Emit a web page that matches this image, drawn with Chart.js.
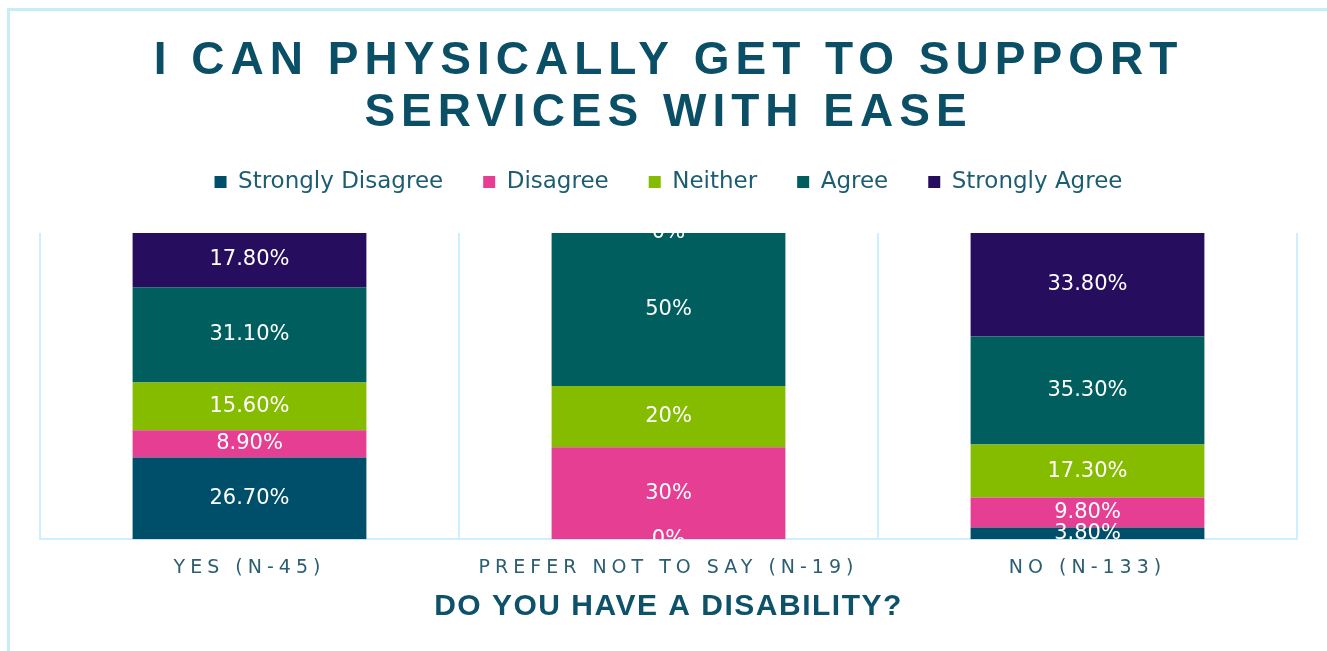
<!DOCTYPE html>
<html>
<head>
<meta charset="utf-8">
<title>I can physically get to support services with ease</title>
<script src="https://cdn.jsdelivr.net/npm/chart.js@4"></script>
<style>
  html, body { margin: 0; padding: 0; background: #fff; }
  #wrap { position: relative; width: 1327px; height: 651px; overflow: hidden; }
  #frame {
    position: absolute; left: 7px; top: 8px; width: 1400px; height: 700px;
    border-left: 3px solid #c6eef9; border-top: 3px solid #c6eef9;
  }
  #chart { position: absolute; left: 0; top: 0; }
</style>
</head>
<body>
<div id="wrap">
  <div id="frame"></div>
  <canvas id="chart" width="1327" height="651"></canvas>
</div>
<script>
var groups = ['YES (N-45)', 'PREFER NOT TO SAY (N-19)', 'NO (N-133)'];
var answers = ['Strongly Disagree', 'Disagree', 'Neither', 'Agree', 'Strongly Agree'];
var colours = ['#004f6a', '#e63e93', '#86bc00', '#005e5e', '#260d5e'];

// percent per answer, one value per group
var stronglyDisagree = [26.7, 0, 3.8];
var disagree = [8.9, 30, 9.8];
var neither = [15.6, 20, 17.3];
var agree = [31.1, 50, 35.3];
var stronglyAgree = [17.8, 0, 33.8];

var series = [stronglyDisagree, disagree, neither, agree, stronglyAgree];

function pct(v) {
    return Number.isInteger(v) ? v + '%' : v.toFixed(2) + '%';
}

// sets canvas letter spacing around one draw method of a box
function spaceOut(obj, method, px) {
    if (!obj || obj['_sp_' + method]) return;
    var orig = obj[method];
    obj[method] = function () {
        var ctx = this.ctx;
        ctx.save();
        ctx.letterSpacing = px + 'px';
        orig.apply(this, arguments);
        ctx.restore();
    };
    obj['_sp_' + method] = true;
}

var spacing = {
    id: 'spacing',
    beforeInit: function (chart) {
        // extra room between legend and bars
        var fit = chart.legend.fit;
        chart.legend.fit = function () {
            fit.bind(chart.legend)();
            this.height += 29.5;
        };
    },
    beforeDraw: function (chart) {
        spaceOut(chart.titleBlock, 'draw', 6);
        spaceOut(chart.scales.x, 'drawLabels', 5);
        spaceOut(chart.scales.x, 'drawTitle', 1.5);
    }
};

var valueLabels = {
    id: 'valueLabels',
    afterDatasetsDraw: function (chart) {
        var ctx = chart.ctx, a = chart.chartArea;
        ctx.save();
        ctx.beginPath();
        ctx.rect(a.left, a.top, a.right - a.left, a.bottom - a.top);
        ctx.clip();
        ctx.font = '21px "DejaVu Sans"';
        ctx.fillStyle = '#ffffff';
        ctx.textAlign = 'center';
        ctx.textBaseline = 'middle';
        chart.data.datasets.forEach(function (ds, i) {
            chart.getDatasetMeta(i).data.forEach(function (bar, j) {
                var p = bar.getProps(['x', 'y', 'base'], true);
                ctx.fillText(pct(ds.data[j]), p.x, (p.y + p.base) / 2);
            });
        });
        ctx.restore();
    }
};

var ctx = document.getElementById('chart').getContext('2d');
var myChart = new Chart(ctx, {
    type: 'bar',
    data: {
        labels: groups,
        datasets: answers.map(function (name, i) {
            return {
                label: name,
                data: series[i],
                backgroundColor: colours[i],
                borderWidth: 0,
                barPercentage: 0.558,
                categoryPercentage: 1
            };
        })
    },
    options: {
        responsive: false,
        animation: false,
        layout: { padding: { left: 40, right: 30, top: 0, bottom: 26 } },
        plugins: {
            tooltip: { enabled: false },
            title: {
                display: true,
                text: ['I CAN PHYSICALLY GET TO SUPPORT', 'SERVICES WITH EASE'],
                color: '#0b4f66',
                font: { family: '"Liberation Sans", Arial, sans-serif', size: 46, weight: 'bold', lineHeight: 52 / 46 },
                padding: { top: 35.5, bottom: -9 }
            },
            legend: {
                position: 'top',
                labels: {
                    color: '#1d5d72',
                    font: { family: '"DejaVu Sans", sans-serif', size: 23 },
                    boxWidth: 12,
                    boxHeight: 12,
                    padding: 40
                }
            }
        },
        scales: {
            x: {
                stacked: true,
                grid: { display: true, color: '#cdefff', lineWidth: 2, drawTicks: false, offset: true },
                border: { display: true, color: '#cdefff', width: 2 },
                ticks: {
                    color: '#2b5e72',
                    font: { family: '"DejaVu Sans", sans-serif', size: 19 },
                    padding: 17,
                    maxRotation: 0
                },
                title: {
                    display: true,
                    text: 'DO YOU HAVE A DISABILITY?',
                    color: '#0d5268',
                    font: { family: '"Liberation Sans", Arial, sans-serif', size: 30, weight: 'bold' },
                    padding: { top: -7, bottom: 0 }
                }
            },
            y: {
                stacked: true,
                display: false,
                min: 0,
                max: 100
            }
        }
    },
    plugins: [spacing, valueLabels]
});
</script>
</body>
</html>
